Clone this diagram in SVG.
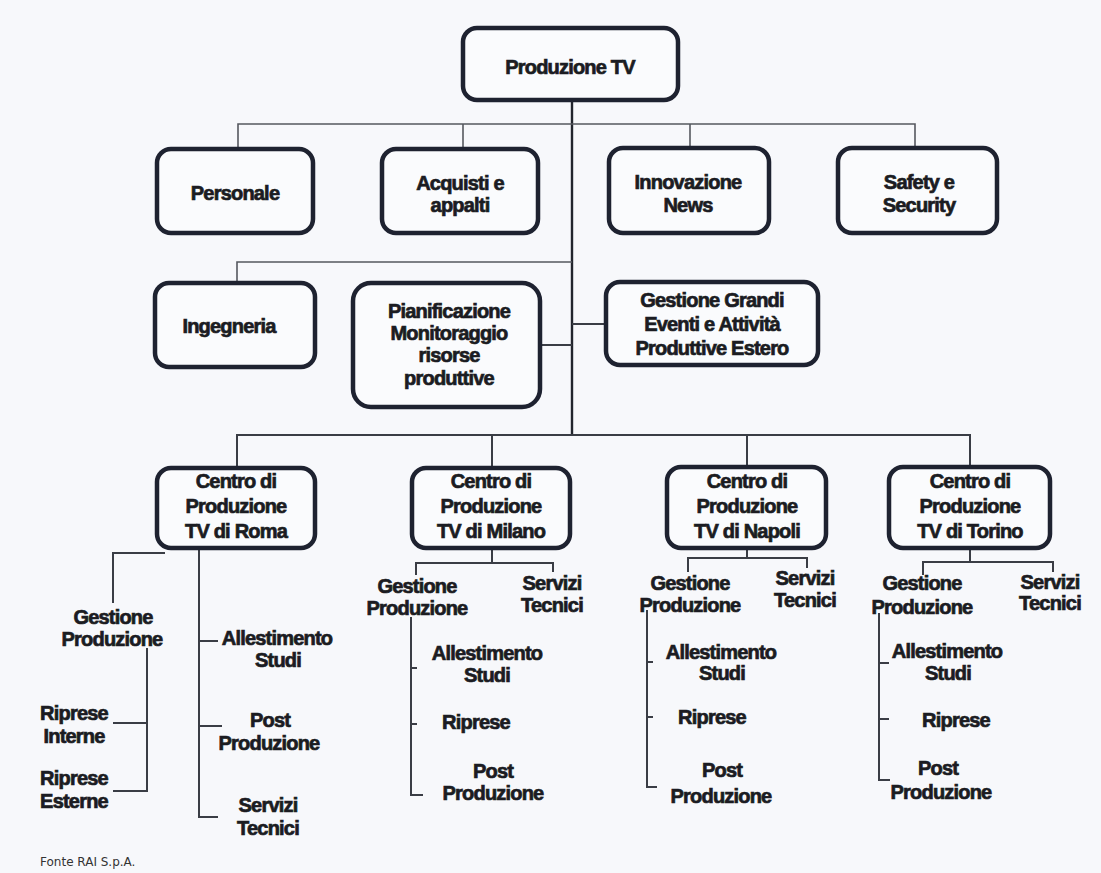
<svg xmlns="http://www.w3.org/2000/svg" width="1101" height="873" viewBox="0 0 1101 873">
<style>
.bg{fill:#f7f8fb}
.box{fill:#fafbfd;stroke:#1e2230;stroke-width:4.5}
.t{font-family:"Liberation Sans",Arial,sans-serif;font-weight:bold;font-size:20px;letter-spacing:-0.8px;fill:#1b1c22;stroke:#1b1c22;stroke-width:0.7;text-anchor:middle}
.ln{fill:none;stroke:#3a3d45;stroke-width:2}
.lt{fill:none;stroke:#55585f;stroke-width:1.6}
.lm{fill:none;stroke:#22252d;stroke-width:2.4}
.src{font-family:"DejaVu Sans",Verdana,sans-serif;font-size:12px;fill:#333}
</style>
<rect class="bg" x="0" y="0" width="1101" height="873"/>

<g id="connectors">
  <path class="lm" d="M572 100 V435"/>
  <path class="lt" d="M238 149 V124 H915 V148"/>
  <path class="lt" d="M463 124 V149"/>
  <path class="lt" d="M690 124 V148"/>
  <path class="lt" d="M237 283 V262 H572"/>
  <path class="ln" d="M540 345 H572"/>
  <path class="ln" d="M572 324 H606"/>
  <path class="ln" d="M237 468 V435 H970 V467"/>
  <path class="ln" d="M492 435 V468"/>
  <path class="ln" d="M747 435 V467"/>
  <!-- Roma -->
  <path class="ln" d="M165 553 H113 V603"/>
  <path class="ln" d="M199 544 V817 H218"/>
  <path class="ln" d="M199 641 H218"/>
  <path class="ln" d="M199 726 H222"/>
  <path class="ln" d="M147 648 V791 H113"/>
  <path class="ln" d="M147 723 H113"/>
  <!-- Milano -->
  <path class="ln" d="M492 548 V563"/>
  <path class="ln" d="M416 575 V563 H553 V572"/>
  <path class="ln" d="M411 617 V795 H423"/>
  <path class="ln" d="M411 668 H417"/>
  <path class="ln" d="M411 724 H417"/>
  <!-- Napoli -->
  <path class="ln" d="M747 548 V558"/>
  <path class="ln" d="M688 572 V558 H807 V568"/>
  <path class="ln" d="M647 610 V787 H657"/>
  <path class="ln" d="M647 662 H653"/>
  <path class="ln" d="M647 717 H653"/>
  <!-- Torino -->
  <path class="ln" d="M970 548 V562"/>
  <path class="ln" d="M923 575 V562 H1053 V572"/>
  <path class="ln" d="M879 613 V780 H890"/>
  <path class="ln" d="M879 663 H889"/>
  <path class="ln" d="M879 719 H889"/>
</g>

<g id="root">
  <rect class="box" x="463" y="28" width="215" height="72" rx="14"/>
  <text class="t" x="570" y="74">Produzione TV</text>
</g>

<g id="personale">
  <rect class="box" x="157" y="149" width="156" height="84" rx="14"/>
  <text class="t" x="235" y="200">Personale</text>
</g>
<g id="acquisti">
  <rect class="box" x="382" y="149" width="156" height="84" rx="14"/>
  <text class="t" x="460" y="190">Acquisti e</text>
  <text class="t" x="460" y="212">appalti</text>
</g>
<g id="innovazione">
  <rect class="box" x="609" y="148" width="160" height="85" rx="14"/>
  <text class="t" x="688" y="189">Innovazione</text>
  <text class="t" x="688" y="212">News</text>
</g>
<g id="safety">
  <rect class="box" x="838" y="148" width="159" height="85" rx="14"/>
  <text class="t" x="919" y="189">Safety e</text>
  <text class="t" x="919" y="212">Security</text>
</g>

<g id="ingegneria">
  <rect class="box" x="155" y="283" width="160" height="84" rx="14"/>
  <text class="t" x="229" y="333">Ingegneria</text>
</g>
<g id="pianificazione">
  <rect class="box" x="353" y="283" width="187" height="124" rx="18"/>
  <text class="t" x="449" y="318">Pianificazione</text>
  <text class="t" x="449" y="340">Monitoraggio</text>
  <text class="t" x="449" y="362">risorse</text>
  <text class="t" x="449" y="385">produttive</text>
</g>
<g id="grandi-eventi">
  <rect class="box" x="606" y="282" width="212" height="83" rx="14"/>
  <text class="t" x="712" y="307">Gestione Grandi</text>
  <text class="t" x="712" y="331">Eventi e Attività</text>
  <text class="t" x="712" y="355">Produttive Estero</text>
</g>

<g id="roma">
  <rect class="box" x="157" y="468" width="158" height="80" rx="14"/>
  <text class="t" x="236" y="488">Centro di</text>
  <text class="t" x="236" y="513">Produzione</text>
  <text class="t" x="236" y="538">TV di Roma</text>
</g>
<g id="milano">
  <rect class="box" x="412" y="468" width="158" height="80" rx="14"/>
  <text class="t" x="491" y="488">Centro di</text>
  <text class="t" x="491" y="513">Produzione</text>
  <text class="t" x="491" y="538">TV di Milano</text>
</g>
<g id="napoli">
  <rect class="box" x="667" y="467" width="159" height="81" rx="14"/>
  <text class="t" x="747" y="488">Centro di</text>
  <text class="t" x="747" y="513">Produzione</text>
  <text class="t" x="747" y="538">TV di Napoli</text>
</g>
<g id="torino">
  <rect class="box" x="889" y="467" width="161" height="81" rx="14"/>
  <text class="t" x="970" y="488">Centro di</text>
  <text class="t" x="970" y="513">Produzione</text>
  <text class="t" x="970" y="538">TV di Torino</text>
</g>

<g id="roma-gestione"><text class="t" x="113" y="624">Gestione</text><text class="t" x="112" y="646">Produzione</text></g>
<g id="roma-riprese-interne"><text class="t" x="74" y="720">Riprese</text><text class="t" x="74" y="743">Interne</text></g>
<g id="roma-riprese-esterne"><text class="t" x="74" y="785">Riprese</text><text class="t" x="74" y="808">Esterne</text></g>
<g id="roma-allestimento"><text class="t" x="277" y="645">Allestimento</text><text class="t" x="278" y="667">Studi</text></g>
<g id="roma-post"><text class="t" x="270" y="727">Post</text><text class="t" x="269" y="750">Produzione</text></g>
<g id="roma-servizi"><text class="t" x="268" y="812">Servizi</text><text class="t" x="268" y="835">Tecnici</text></g>

<g id="milano-gestione"><text class="t" x="417" y="593">Gestione</text><text class="t" x="417" y="615">Produzione</text></g>
<g id="milano-servizi"><text class="t" x="552" y="590">Servizi</text><text class="t" x="552" y="612">Tecnici</text></g>
<g id="milano-allestimento"><text class="t" x="487" y="660">Allestimento</text><text class="t" x="487" y="682">Studi</text></g>
<g id="milano-riprese"><text class="t" x="476" y="729">Riprese</text></g>
<g id="milano-post"><text class="t" x="493" y="778">Post</text><text class="t" x="493" y="800">Produzione</text></g>

<g id="napoli-gestione"><text class="t" x="690" y="590">Gestione</text><text class="t" x="690" y="612">Produzione</text></g>
<g id="napoli-servizi"><text class="t" x="805" y="585">Servizi</text><text class="t" x="805" y="607">Tecnici</text></g>
<g id="napoli-allestimento"><text class="t" x="721" y="659">Allestimento</text><text class="t" x="722" y="680">Studi</text></g>
<g id="napoli-riprese"><text class="t" x="712" y="724">Riprese</text></g>
<g id="napoli-post"><text class="t" x="722" y="777">Post</text><text class="t" x="721" y="803">Produzione</text></g>

<g id="torino-gestione"><text class="t" x="922" y="590">Gestione</text><text class="t" x="922" y="614">Produzione</text></g>
<g id="torino-servizi"><text class="t" x="1050" y="589">Servizi</text><text class="t" x="1050" y="610">Tecnici</text></g>
<g id="torino-allestimento"><text class="t" x="947" y="658">Allestimento</text><text class="t" x="948" y="680">Studi</text></g>
<g id="torino-riprese"><text class="t" x="956" y="727">Riprese</text></g>
<g id="torino-post"><text class="t" x="938" y="775">Post</text><text class="t" x="941" y="799">Produzione</text></g>

<text class="src" x="40" y="866">Fonte RAI S.p.A.</text>
</svg>
